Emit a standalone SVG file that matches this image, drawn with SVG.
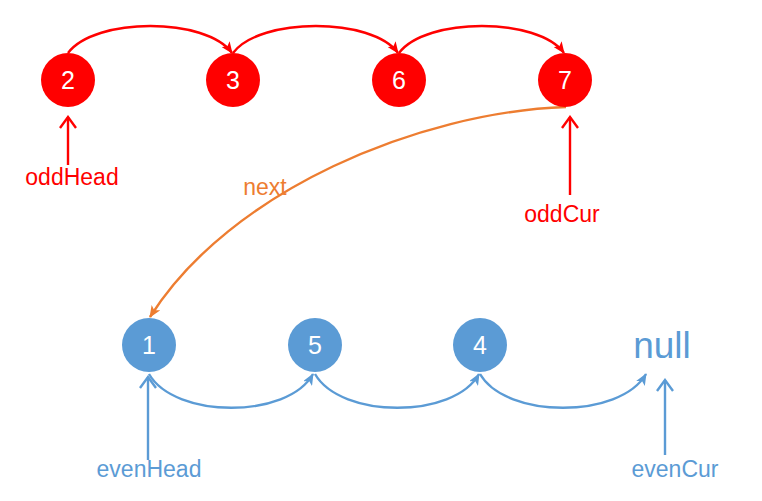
<svg xmlns="http://www.w3.org/2000/svg" width="762" height="501" viewBox="0 0 762 501">
<defs>
<style>
.lbl{font-family:"Liberation Sans",Arial,sans-serif;font-size:23px;text-anchor:middle}
.num{font-family:"Liberation Sans",Arial,sans-serif;font-size:25px;fill:#fff;text-anchor:middle}
.red{fill:#FF0000}
.blue{fill:#5B9BD5}
.edge{fill:none;stroke-width:2.4}
</style>
<marker id="ar" markerUnits="userSpaceOnUse" viewBox="0 0 12 10" refX="11" refY="5" markerWidth="12" markerHeight="10" orient="auto"><path d="M0,0 L12,5 L0,10 L3,5 Z" fill="#FF0000"/></marker>
<marker id="ab" markerUnits="userSpaceOnUse" viewBox="0 0 12 10" refX="11" refY="5" markerWidth="12" markerHeight="10" orient="auto"><path d="M0,0 L12,5 L0,10 L3,5 Z" fill="#5B9BD5"/></marker>
<marker id="ao" markerUnits="userSpaceOnUse" viewBox="0 0 12 10" refX="11" refY="5" markerWidth="12" markerHeight="10" orient="auto"><path d="M0,0 L12,5 L0,10 L3,5 Z" fill="#ED7D31"/></marker>
<marker id="vr" markerUnits="userSpaceOnUse" viewBox="0 0 14 18" refX="12" refY="9" markerWidth="14" markerHeight="18" orient="auto"><path d="M1,1 L12,9 L1,17" fill="none" stroke="#FF0000" stroke-width="2.4"/></marker>
<marker id="vb" markerUnits="userSpaceOnUse" viewBox="0 0 14 18" refX="12" refY="9" markerWidth="14" markerHeight="18" orient="auto"><path d="M1,1 L12,9 L1,17" fill="none" stroke="#5B9BD5" stroke-width="2.4"/></marker>
</defs>
<rect width="762" height="501" fill="#fff"/>
<g id="connectors">
<path class="edge" stroke="#FF0000" marker-end="url(#ar)" d="M68,53 C95,17 206,17 232,53"/>
<path class="edge" stroke="#FF0000" marker-end="url(#ar)" d="M233,53 C260,17 372,17 398,53"/>
<path class="edge" stroke="#FF0000" marker-end="url(#ar)" d="M399,53 C426,17 538,17 564,53"/>
<path class="edge" stroke="#ED7D31" marker-end="url(#ao)" d="M566,107 C420,112 230,190 150,317"/>
<path class="edge" stroke="#5B9BD5" marker-end="url(#ab)" d="M149,374 C175,419 288,419 313,374"/>
<path class="edge" stroke="#5B9BD5" marker-end="url(#ab)" d="M315,374 C341,419 454,419 479,374"/>
<path class="edge" stroke="#5B9BD5" marker-end="url(#ab)" d="M480,374 C506,419 620,419 646,374"/>
<line class="edge" stroke="#FF0000" marker-end="url(#vr)" x1="68" y1="165" x2="68" y2="117"/>
<line class="edge" stroke="#FF0000" marker-end="url(#vr)" x1="570" y1="195" x2="570" y2="117"/>
<line class="edge" stroke="#5B9BD5" marker-end="url(#vb)" x1="148" y1="460" x2="148" y2="377"/>
<line class="edge" stroke="#5B9BD5" marker-end="url(#vb)" x1="665" y1="455" x2="665" y2="380"/>
<text class="lbl" x="265" y="195" fill="#ED7D31">next</text>
</g>
<g id="n2"><circle cx="68" cy="80" r="27" class="red"/><text class="num" x="68" y="89">2</text></g>
<g id="n3"><circle cx="233" cy="80" r="27" class="red"/><text class="num" x="233" y="89">3</text></g>
<g id="n6"><circle cx="399" cy="80" r="27" class="red"/><text class="num" x="399" y="89">6</text></g>
<g id="n7"><circle cx="565" cy="80" r="27" class="red"/><text class="num" x="565" y="89">7</text></g>
<g id="n1"><circle cx="149" cy="345" r="27" class="blue"/><text class="num" x="149" y="354">1</text></g>
<g id="n5"><circle cx="315" cy="345" r="27" class="blue"/><text class="num" x="315" y="354">5</text></g>
<g id="n4"><circle cx="480" cy="345" r="27" class="blue"/><text class="num" x="480" y="354">4</text></g>
<g id="null"><text x="662" y="358" font-family="Liberation Sans, Arial, sans-serif" font-size="37" text-anchor="middle" fill="#5B9BD5">null</text></g>
<g id="oddHead"><text class="lbl red" x="72" y="185">oddHead</text></g>
<g id="oddCur"><text class="lbl red" x="562" y="222">oddCur</text></g>
<g id="evenHead"><text class="lbl blue" x="149" y="477">evenHead</text></g>
<g id="evenCur"><text class="lbl blue" x="675" y="477">evenCur</text></g>
</svg>
